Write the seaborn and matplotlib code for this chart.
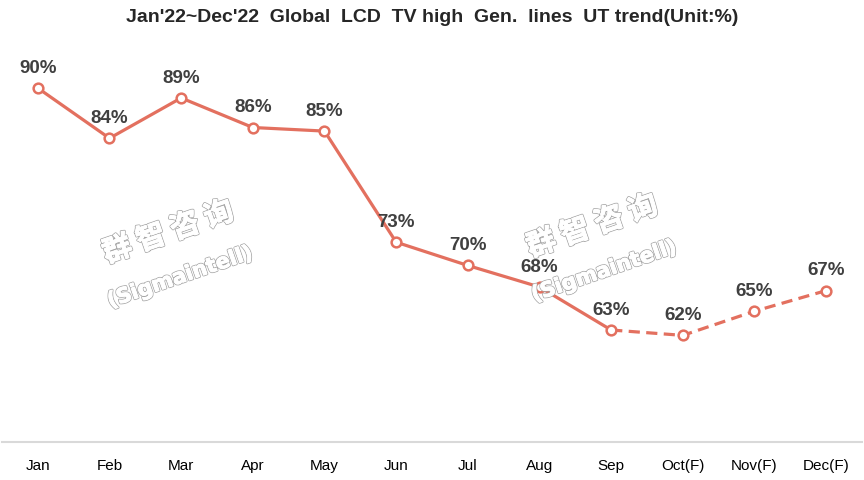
import pandas as pd
import numpy as np
import matplotlib.pyplot as plt
import matplotlib.patheffects as pe
import seaborn as sns

sns.set_style("white")
plt.rcParams['font.family'] = ['Liberation Sans', 'Noto Sans CJK SC', 'DejaVu Sans']

# Data (labels show rounded values)
months = ['Jan', 'Feb', 'Mar', 'Apr', 'May', 'Jun', 'Jul', 'Aug', 'Sep',
          'Oct(F)', 'Nov(F)', 'Dec(F)']
ut = [90, 84.4, 88.9, 85.6, 85.2, 72.8, 70.2, 67.8, 63, 62.4, 65.1, 67.4]
actual_end = 8  # Sep is the last actual month

line_color = '#E3705F'

df = pd.DataFrame({'idx': np.arange(len(months)), 'month': months, 'ut': ut})
actual = df.iloc[:actual_end + 1]
forecast = df.iloc[actual_end:]

fig = plt.figure(figsize=(8.64, 4.8), dpi=100)
ax = fig.add_axes([2 / 864, 38 / 480, 860 / 864, 0.84])

sns.lineplot(data=actual, x='idx', y='ut', ax=ax, color=line_color, linewidth=2.3,
             marker='o', markersize=7, markerfacecolor='white',
             markeredgecolor=line_color, markeredgewidth=1.8)
sns.lineplot(data=forecast.iloc[1:], x='idx', y='ut', ax=ax, color=line_color,
             linewidth=0, marker='o', markersize=7, markerfacecolor='white',
             markeredgecolor=line_color, markeredgewidth=1.8)
ax.plot(forecast['idx'], forecast['ut'], color=line_color, linewidth=2.3,
        linestyle=(0, (3.5, 2)), zorder=1.5)

# Data labels
for i, v in zip(df['idx'], df['ut']):
    ax.annotate(f'{v:.0f}%', (i, v), xytext=(0, 8), textcoords='offset points',
                ha='center', va='bottom', fontsize=13.5, fontweight='bold',
                color='#404040')

ax.set_xlim(-0.5, len(months) - 0.5)
ax.set_ylim(50.5, 95.5)
ax.set_xticks(df['idx'])
ax.set_xticklabels(months, fontsize=11, color='black')
ax.tick_params(axis='x', length=0, pad=12)
ax.set_yticks([])
ax.set_xlabel('')
ax.set_ylabel('')
for side in ['top', 'left', 'right']:
    ax.spines[side].set_visible(False)
ax.spines['bottom'].set_color('#d9d9d9')
ax.spines['bottom'].set_linewidth(1.5)

fig.suptitle("Jan'22~Dec'22  Global  LCD  TV high  Gen.  lines  UT trend(Unit:%)",
             fontsize=14, fontweight='bold', y=0.982)

# Watermarks
outline = [pe.withStroke(linewidth=1.8, foreground='#a6a6a6'),
           pe.withStroke(linewidth=0.7, foreground='white')]
for cx, cy in [(168, 232), (592, 226)]:
    fig.text(cx / 864, 1 - cy / 480, '群 智 咨 询', fontsize=21, fontweight='bold',
             family=['Noto Sans CJK SC', 'DejaVu Sans'], color='white',
             rotation=19, ha='center', va='center', path_effects=outline)
    fig.text((cx + 12) / 864, 1 - (cy + 45) / 480, '(Sigmaintell)', fontsize=15,
             fontweight='bold', family=['DejaVu Sans'], color='white',
             rotation=19, ha='center', va='center', path_effects=outline)

fig.savefig('out.png', dpi=100)
